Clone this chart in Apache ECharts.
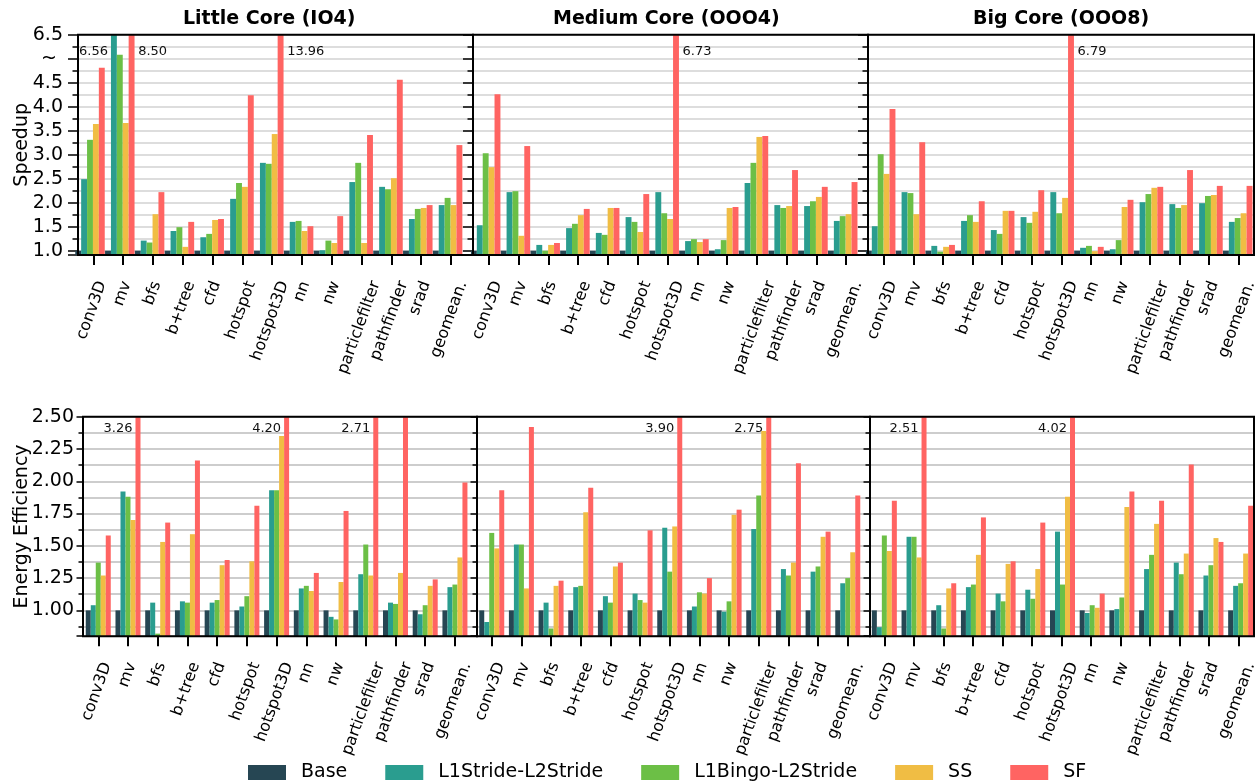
<!DOCTYPE html>
<html>
<head>
<meta charset="utf-8">
<script src="https://cdn.jsdelivr.net/npm/echarts@6/dist/echarts.min.js"></script>
<style>
  html, body { margin: 0; padding: 0; background: #fff; }
  #chart { width: 1259px; height: 782px; }
</style>
</head>
<body>
<div id="chart"></div>
<script>
const benchmarks = ['conv3D', 'mv', 'bfs', 'b+tree', 'cfd', 'hotspot', 'hotspot3D', 'nn', 'nw',
  'particlefilter', 'pathfinder', 'srad', 'geomean.'];
const schemes = ['Base', 'L1Stride-L2Stride', 'L1Bingo-L2Stride', 'SS', 'SF'];
const coreTitles = ['Little Core (IO4)', 'Medium Core (OOO4)', 'Big Core (OOO8)'];

// y tick labels (the speedup axis is broken above 4.5)
const speedupTicks = [1.0, 1.5, 2.0, 2.5, 3.0, 3.5, 4.0, 4.5, 5.0, 5.5];
const speedupTickLabels = ['1.0', '1.5', '2.0', '2.5', '3.0', '3.5', '4.0', '4.5', '~ ', '6.5'];
const energyTicks = [1.0, 1.25, 1.5, 1.75, 2.0, 2.25, 2.5];
const energyTickLabels = ['1.00', '1.25', '1.50', '1.75', '2.00', '2.25', '2.50'];

// Base is the normalisation point
const baseline = [1, 1, 1, 1, 1, 1, 1, 1, 1, 1, 1, 1, 1];

// speedup
const speedupLittleStride = [2.49, 6.56, 1.21, 1.41, 1.28, 2.08, 2.83, 1.60, 1.01, 2.43, 2.33, 1.66, 1.95];
const speedupLittleBingo  = [3.31, 5.08, 1.17, 1.49, 1.35, 2.41, 2.81, 1.62, 1.21, 2.83, 2.28, 1.87, 2.10];
const speedupLittleSS     = [3.64, 3.66, 1.76, 1.08, 1.64, 2.33, 3.43, 1.41, 1.16, 1.16, 2.51, 1.89, 1.95];
const speedupLittleSF     = [4.81, 8.50, 2.22, 1.60, 1.66, 4.24, 13.96, 1.51, 1.72, 3.41, 4.56, 1.95, 3.20];

const speedupMediumStride = [1.53, 2.22, 1.12, 1.47, 1.37, 1.70, 2.22, 1.20, 1.03, 2.41, 1.95, 1.93, 1.62];
const speedupMediumBingo  = [3.03, 2.24, 1.00, 1.56, 1.33, 1.60, 1.78, 1.24, 1.22, 2.83, 1.89, 2.03, 1.72];
const speedupMediumSS     = [2.74, 1.31, 1.12, 1.74, 1.89, 1.39, 1.66, 1.18, 1.89, 3.37, 1.93, 2.12, 1.76];
const speedupMediumSF     = [4.26, 3.18, 1.16, 1.87, 1.89, 2.18, 6.73, 1.24, 1.91, 3.39, 2.68, 2.33, 2.43];

const speedupBigStride = [1.51, 2.22, 1.10, 1.62, 1.43, 1.70, 2.22, 1.06, 1.03, 2.01, 1.97, 1.99, 1.60];
const speedupBigBingo  = [3.01, 2.20, 0.98, 1.74, 1.35, 1.58, 1.78, 1.10, 1.22, 2.18, 1.89, 2.14, 1.68];
const speedupBigSS     = [2.60, 1.76, 1.08, 1.60, 1.83, 1.81, 2.10, 0.99, 1.91, 2.31, 1.95, 2.16, 1.78];
const speedupBigSF     = [3.95, 3.26, 1.12, 2.03, 1.83, 2.26, 6.79, 1.08, 2.06, 2.33, 2.68, 2.35, 2.35];

// energy efficiency
const energyLittleStride = [1.04, 1.92, 1.06, 1.07, 1.06, 1.03, 1.93, 1.17, 0.95, 1.28, 1.06, 0.97, 1.18];
const energyLittleBingo  = [1.37, 1.88, 0.82, 1.06, 1.08, 1.11, 1.93, 1.19, 0.93, 1.51, 1.05, 1.04, 1.20];
const energyLittleSS     = [1.27, 1.70, 1.53, 1.59, 1.35, 1.38, 2.35, 1.15, 1.22, 1.27, 1.29, 1.19, 1.41];
const energyLittleSF     = [1.58, 3.26, 1.68, 2.16, 1.39, 1.81, 4.20, 1.29, 1.77, 2.71, 2.50, 1.24, 1.99];

const energyMediumStride = [0.91, 1.51, 1.06, 1.18, 1.11, 1.13, 1.64, 1.03, 0.99, 1.63, 1.32, 1.30, 1.21];
const energyMediumBingo  = [1.60, 1.51, 0.86, 1.19, 1.06, 1.08, 1.30, 1.14, 1.07, 1.89, 1.27, 1.34, 1.25];
const energyMediumSS     = [1.48, 1.17, 1.19, 1.76, 1.34, 1.06, 1.65, 1.13, 1.74, 2.39, 1.37, 1.57, 1.45];
const energyMediumSF     = [1.93, 2.42, 1.23, 1.95, 1.37, 1.62, 3.90, 1.25, 1.78, 2.75, 2.14, 1.61, 1.89];

const energyBigStride = [0.87, 1.57, 1.04, 1.18, 1.13, 1.16, 1.61, 0.98, 1.01, 1.32, 1.37, 1.27, 1.19];
const energyBigBingo  = [1.58, 1.57, 0.86, 1.20, 1.07, 1.09, 1.20, 1.04, 1.10, 1.43, 1.28, 1.35, 1.21];
const energyBigSS     = [1.46, 1.41, 1.17, 1.43, 1.36, 1.32, 1.88, 1.02, 1.80, 1.67, 1.44, 1.56, 1.44];
const energyBigSF     = [1.85, 2.51, 1.21, 1.72, 1.38, 1.68, 4.02, 1.13, 1.92, 1.85, 2.13, 1.53, 1.81];

const FONT = 'DejaVu Sans';
const colors = ['#264653', '#2a9d8f', '#6cbf46', '#f0bd44', '#ff6462'];
const XFONT = 16;

// layout of the two rows of panels
const rows = [
  {
    name: 'Speedup', min: 0.91, max: 5.5, step: 0.5, ticks: speedupTicks, tickLabels: speedupTickLabels,
    top: 34.7, height: 220.3, tickLen: 10, minorLen: 5.5, labelMargin: 15, nameGap: 46,
    noteDy: 16.5, noteRight: 9.5, barW: 5.9, barShift: -3.3,
    gridColor: '#d2d2d2',
    frames: [[78, 395], [473, 395], [868, 386]],
    plots: [[78.4, 387.4], [474.1, 386.8], [869.1, 386.8]],
    panels: [
      [baseline, speedupLittleStride, speedupLittleBingo, speedupLittleSS, speedupLittleSF],
      [baseline, speedupMediumStride, speedupMediumBingo, speedupMediumSS, speedupMediumSF],
      [baseline, speedupBigStride, speedupBigBingo, speedupBigSS, speedupBigSF]
    ]
  },
  {
    name: 'Energy Efficiency', min: 0.8, max: 2.5, step: 0.25, ticks: energyTicks, tickLabels: energyTickLabels,
    top: 416.7, height: 219.5, tickLen: 6.5, minorLen: 4.5, labelMargin: 9, nameGap: 51.5,
    noteDy: 12, noteRight: 8, barW: 5, barShift: 0,
    gridColor: '#bdbdbd',
    frames: [[83, 394], [477, 393], [870, 384]],
    plots: [[83.4, 386.4], [476.9, 385.7], [869.5, 386]],
    panels: [
      [baseline, energyLittleStride, energyLittleBingo, energyLittleSS, energyLittleSF],
      [baseline, energyMediumStride, energyMediumBingo, energyMediumSS, energyMediumSF],
      [baseline, energyBigStride, energyBigBingo, energyBigSS, energyBigSF]
    ]
  }
];

// x labels are centred under their tick like matplotlib does; echarts anchors the
// end of a rotated label on the tick, so each label gets its own padding shift
const measure = document.createElement('canvas').getContext('2d');
measure.font = XFONT + 'px "DejaVu Sans"';
const labelRich = {};
benchmarks.forEach((b, i) => {
  const len = measure.measureText(b).width;
  const dx = 0.151 * len - 7.8;
  const dy = 10;
  const pr = Math.max(0, -0.342 * dx + 0.94 * dy);
  const pt = Math.max(0, 0.94 * dx + 0.342 * dy);
  labelRich['l' + i] = { padding: [pt, pr, 0, 0], fontSize: XFONT, fontFamily: FONT, color: '#000' };
});

const grid = [], xAxis = [], yAxis = [], series = [];

function tickLabel(r, v) {
  for (let i = 0; i < r.ticks.length; i++) {
    if (Math.abs(r.ticks[i] - v) < 1e-6) return r.tickLabels[i];
  }
  return '';
}

// bars taller than the axis get their value written next to them
function barData(vals, r, ri, s) {
  return vals.map(v => {
    if (v <= r.max) return v;
    const right = ri === 0 && s === 4;
    return {
      value: v,
      label: {
        show: true,
        formatter: v.toFixed(2),
        position: right ? [r.noteRight, r.noteDy] : [-3, r.noteDy],
        align: right ? 'left' : 'right',
        verticalAlign: 'middle',
        fontSize: 13,
        fontFamily: FONT,
        color: '#111'
      }
    };
  });
}

rows.forEach((r, ri) => {
  r.panels.forEach((panel, ci) => {
    const fi = grid.length;      // frame: border, grid lines, y ticks
    const ti = fi + 1;           // x ticks and labels
    const bi = fi + 2;           // bars (the speedup groups sit a little left of their tick)
    grid.push({
      left: r.frames[ci][0], width: r.frames[ci][1], top: r.top, height: r.height,
      show: true, borderColor: '#000', borderWidth: 2, backgroundColor: 'transparent', z: 3
    });
    grid.push({ left: r.plots[ci][0], width: r.plots[ci][1], top: r.top, height: r.height });
    grid.push({ left: r.plots[ci][0] + r.barShift, width: r.plots[ci][1], top: r.top, height: r.height });

    xAxis.push({ gridIndex: fi, type: 'value', min: 0, max: 1, show: false });
    xAxis.push({
      gridIndex: ti, type: 'category', data: benchmarks,
      axisLine: { show: false },
      axisTick: { show: true, alignWithLabel: true, length: 10, lineStyle: { color: '#000', width: 2 } },
      splitLine: { show: false },
      axisLabel: {
        interval: 0, rotate: 70, margin: 14, verticalAlign: 'top',
        fontSize: XFONT, fontFamily: FONT, color: '#000',
        formatter: (v, i) => '{l' + i + '|' + v + '}',
        rich: labelRich
      }
    });
    xAxis.push({ gridIndex: bi, type: 'category', data: benchmarks, show: false });

    yAxis.push({
      gridIndex: fi, type: 'value', min: r.min, max: r.max,
      minInterval: r.step, maxInterval: r.step,
      name: ci === 0 ? r.name : '',
      nameLocation: 'middle', nameGap: r.nameGap, nameMoveOverlap: false,
      nameTextStyle: { fontSize: 19, fontFamily: FONT, color: '#000' },
      axisLine: { show: false },
      axisTick: { show: true, length: r.tickLen, lineStyle: { color: '#000', width: 1.5 } },
      minorTick: { show: true, splitNumber: 2, length: r.minorLen, lineStyle: { color: '#000', width: 1.5 } },
      splitLine: { show: true, lineStyle: { color: r.gridColor, width: 1.5 } },
      minorSplitLine: { show: true, lineStyle: { color: r.gridColor, width: 1.5 } },
      axisLabel: {
        show: ci === 0, margin: r.labelMargin, fontSize: 19, fontFamily: FONT, color: '#000',
        formatter: v => tickLabel(r, v)
      }
    });
    yAxis.push({ gridIndex: ti, type: 'value', min: r.min, max: r.max, show: false });
    yAxis.push({ gridIndex: bi, type: 'value', min: r.min, max: r.max, show: false });

    panel.forEach((vals, s) => {
      series.push({
        type: 'bar',
        name: schemes[s],
        xAxisIndex: bi,
        yAxisIndex: bi,
        data: barData(vals, r, ri, s),
        barWidth: r.barW,
        barGap: '0%',
        clip: true,
        itemStyle: { color: colors[s] },
        emphasis: { disabled: true }
      });
    });
  });
});

const chart = echarts.init(document.getElementById('chart'));
chart.setOption({
  animation: false,
  backgroundColor: '#fff',
  title: coreTitles.map((t, i) => ({
    text: t,
    left: [183, 553, 973][i],
    top: 10,
    padding: 0,
    textStyle: { fontSize: 19, fontWeight: 'bold', fontFamily: FONT, color: '#000' }
  })),
  legend: {
    data: schemes,
    left: 248,
    top: 763,
    padding: 0,
    itemWidth: 38,
    itemHeight: 15,
    itemGap: 38,
    icon: 'rect',
    selectedMode: false,
    textStyle: { fontSize: 19, fontFamily: FONT, color: '#000', padding: [0, 0, 0, 10] }
  },
  grid,
  xAxis,
  yAxis,
  series
});
</script>
</body>
</html>
